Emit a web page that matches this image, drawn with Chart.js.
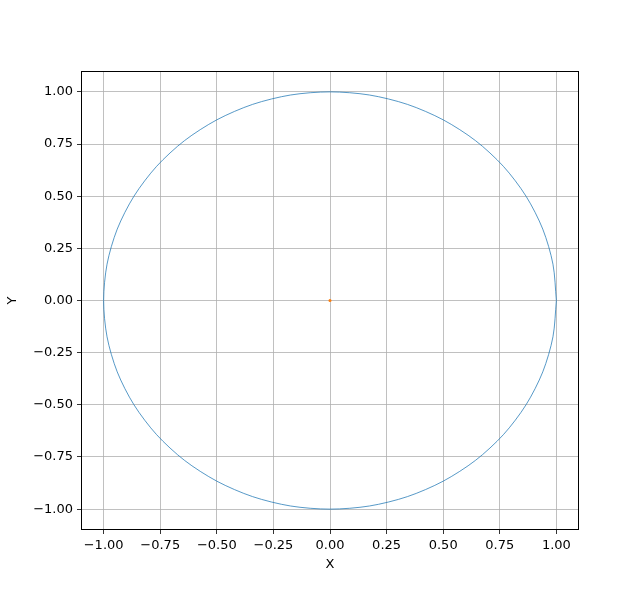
<!DOCTYPE html>
<html>
<head>
<meta charset="utf-8">
<script src="https://cdn.jsdelivr.net/npm/chart.js@4/dist/chart.umd.min.js"></script>
<style>
  body { margin: 0; background: #fff; }
  canvas { display: block; }
</style>
</head>
<body>
<canvas id="circleChart" width="643" height="595"></canvas>
<script>
// circle outline, every 10 degrees
const circleX = [1, 0.985, 0.94, 0.866, 0.766, 0.643, 0.5, 0.342, 0.174, 0, -0.174, -0.342, -0.5, -0.643, -0.766, -0.866, -0.94, -0.985, -1,
                 -0.985, -0.94, -0.866, -0.766, -0.643, -0.5, -0.342, -0.174, 0, 0.174, 0.342, 0.5, 0.643, 0.766, 0.866, 0.94, 0.985, 1];
const circleY = [0, 0.174, 0.342, 0.5, 0.643, 0.766, 0.866, 0.94, 0.985, 1, 0.985, 0.94, 0.866, 0.766, 0.643, 0.5, 0.342, 0.174, 0,
                 -0.174, -0.342, -0.5, -0.643, -0.766, -0.866, -0.94, -0.985, -1, -0.985, -0.94, -0.866, -0.766, -0.643, -0.5, -0.342, -0.174, 0];
// the small orange centre point
const centreX = [0];
const centreY = [0];
// tick values for both axes
const xTicks = [-1, -0.75, -0.5, -0.25, 0, 0.25, 0.5, 0.75, 1];
const yTicks = [-1, -0.75, -0.5, -0.25, 0, 0.25, 0.5, 0.75, 1];

const FONT = 'DejaVu Sans';

function fmt(v) {
    const s = Math.abs(v) < 1e-9 ? '0.00' : v.toFixed(2);
    return s.replace('-', '\u2212');
}

// black frame round the plot + axis names
const framePlugin = {
    id: 'frame',
    afterDraw(chart) {
        const { ctx, chartArea: a } = chart;
        ctx.save();
        ctx.strokeStyle = '#000';
        ctx.lineWidth = 1;
        ctx.strokeRect(a.left + 0.5, a.top + 0.5, a.right - a.left - 1, a.bottom - a.top - 1);
        ctx.fillStyle = '#000';
        ctx.font = '13px "' + FONT + '"';
        ctx.textAlign = 'center';
        ctx.textBaseline = 'middle';
        ctx.fillText('X', (a.left + a.right) / 2, 565);
        ctx.translate(13, (a.top + a.bottom) / 2);
        ctx.rotate(-Math.PI / 2);
        ctx.fillText('Y', 0, 0);
        ctx.restore();
    }
};

const axisBase = {
    type: 'linear',
    min: -1.1,
    max: 1.1,
    border: { display: false },
    grid: { color: '#b0b0b0', lineWidth: 0.8, tickColor: '#000', tickLength: 4, drawTicks: true },
    ticks: {
        color: '#000',
        font: { family: FONT, size: 13 },
        padding: 4,
        maxRotation: 0,
        callback: v => fmt(v)
    }
};

new Chart(document.getElementById('circleChart'), {
    type: 'scatter',
    data: {
        datasets: [
            {
                data: circleX.map((x, i) => ({ x: x, y: circleY[i] })),
                showLine: true,
                borderColor: 'rgba(31,119,180,0.75)',
                borderWidth: 1,
                tension: 0.3,
                pointRadius: 0,
                fill: false
            },
            {
                data: centreX.map((x, i) => ({ x: x, y: centreY[i] })),
                pointRadius: 1.5,
                pointBackgroundColor: '#ff7f0e',
                pointBorderWidth: 0
            }
        ]
    },
    options: {
        responsive: false,
        animation: false,
        layout: { padding: { top: 71, right: 64, left: 0, bottom: 0 } },
        plugins: { legend: { display: false }, tooltip: { enabled: false } },
        scales: {
            x: Object.assign({}, axisBase, {
                afterBuildTicks: s => { s.ticks = xTicks.map(v => ({ value: v })); },
                afterFit: s => { s.height = 65; }
            }),
            y: Object.assign({}, axisBase, {
                afterBuildTicks: s => { s.ticks = yTicks.map(v => ({ value: v })); },
                afterFit: s => { s.width = 81; }
            })
        }
    },
    plugins: [framePlugin]
});
</script>
</body>
</html>
